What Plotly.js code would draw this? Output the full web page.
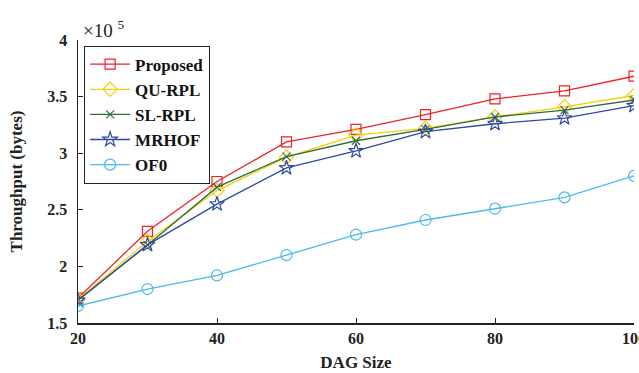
<!DOCTYPE html>
<html><head><meta charset="utf-8">
<script src="https://cdn.plot.ly/plotly-3.0.1.min.js"></script>
<style>html,body{margin:0;padding:0;background:#fff}#chart{width:639px;height:373px}</style>
</head><body><div id="chart"></div>
<script>
const dagSize = [20, 30, 40, 50, 60, 70, 80, 90, 100];
const proposed = [1.72, 2.31, 2.75, 3.10, 3.21, 3.34, 3.48, 3.55, 3.68];
const quRpl    = [1.71, 2.22, 2.67, 2.965, 3.16, 3.22, 3.32, 3.41, 3.51];
const slRpl    = [1.70, 2.19, 2.70, 2.97, 3.11, 3.21, 3.32, 3.38, 3.47];
const mrhof    = [1.70, 2.19, 2.55, 2.87, 3.02, 3.19, 3.26, 3.31, 3.42];
const of0      = [1.65, 1.80, 1.92, 2.10, 2.28, 2.41, 2.51, 2.61, 2.80];
const yTicks = [1.5, 2, 2.5, 3, 3.5, 4];
const yTickText = ['1.5', '2', '2.5', '3', '3.5', '4'];
const xTicks = [20, 40, 60, 80, 100];
const xTickText = ['20', '40', '60', '80', '100'];

const font = 'Liberation Serif, Times New Roman, serif';
function tr(name, y, color, symbol, size) {
  return {x: dagSize, y: y, name: name, type: 'scatter', mode: 'lines+markers',
    line: {color: color, width: 1.3},
    marker: {symbol: symbol, size: size, color: color, line: {color: color, width: 1.2}}};
}
const data = [
  tr('Proposed', proposed, '#ec2229', 'square-open', 10),
  tr('QU-RPL', quRpl, '#f7cc0a', 'diamond-open', 11),
  tr('SL-RPL', slRpl, '#2f6e3c', 'x-thin-open', 8),
  tr('MRHOF', mrhof, '#2d4aa0', 'star-open', 11),
  tr('OF0', of0, '#4cb9ea', 'circle-open', 11)
];
const bold = a => a.map(s => '<b>' + s + '</b>');
const layout = {
  width: 639, height: 373,
  margin: {l: 78, r: 5, t: 40, b: 50},
  paper_bgcolor: '#fff', plot_bgcolor: '#fff',
  font: {family: font, color: '#222', size: 16},
  showlegend: true,
  legend: {x: 0.011, y: 0.98, xanchor: 'left', yanchor: 'top',
    bordercolor: '#222', borderwidth: 1, bgcolor: '#fff',
    font: {family: font, size: 17, color: '#111', weight: 'bold'},
    tracegroupgap: 0, itemwidth: 40},
  xaxis: {range: [20, 100], tickvals: xTicks, ticktext: bold(xTickText), ticks: 'inside', ticklen: 5,
    ticklabeloverflow: 'allow',
    showline: true, linecolor: '#222', linewidth: 1.5, tickcolor: '#222',
    showgrid: false, zeroline: false, mirror: false,
    tickfont: {family: font, size: 16, color: '#222'},
    title: {text: '<b>DAG Size</b>', font: {family: font, size: 17, color: '#222'}, standoff: 10}},
  yaxis: {range: [1.5, 4], tickvals: yTicks, ticktext: bold(yTickText), ticks: 'inside', ticklen: 5,
    ticklabelstandoff: 6,
    showline: true, linecolor: '#222', linewidth: 1.5, tickcolor: '#222',
    showgrid: false, zeroline: false, mirror: false,
    tickfont: {family: font, size: 16, color: '#222'},
    title: {text: '<b>Throughput (bytes)</b>', font: {family: font, size: 17, color: '#222'}, standoff: 20}},
  annotations: [{xref: 'paper', yref: 'paper', x: 0.006, y: 0.99, xanchor: 'left', yanchor: 'bottom',
    text: '×10 <sup>5</sup>', showarrow: false, font: {family: font, size: 19, color: '#222'}}]
};
Plotly.newPlot('chart', data, layout, {displayModeBar: false, staticPlot: true});
</script></body></html>
